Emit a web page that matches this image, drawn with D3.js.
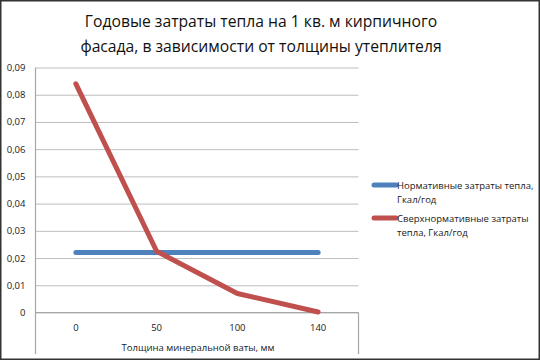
<!DOCTYPE html>
<html><head><meta charset="utf-8">
<script src="https://cdn.jsdelivr.net/npm/d3@7"></script>
<style>html,body{margin:0;padding:0;background:#fff;}svg{display:block;}</style>
</head><body>
<script>
const categories = ["0", "50", "100", "140"];
const normValues = [0.022, 0.022, 0.022, 0.022];
const overValues = [0.084, 0.0225, 0.007, 0.0002];
const yTicks = [0, 0.01, 0.02, 0.03, 0.04, 0.05, 0.06, 0.07, 0.08, 0.09];
const titleLines = ["Годовые затраты тепла на 1 кв. м кирпичного", "фасада, в зависимости от толщины утеплителя"];
const xTitle = "Толщина минеральной ваты, мм";
const seriesNames = [["Нормативные затраты тепла,", "Гкал/год"], ["Сверхнормативные  затраты", "тепла, Гкал/год"]];
const colors = ["#4F81BD", "#C0504D"];

(function () {
const W = 540, H = 360;
const font = "'Open Sans', 'Liberation Sans', sans-serif";
const svg = d3.select("body").append("svg").attr("width", W).attr("height", H);
svg.append("rect").attr("x", 0.75).attr("y", 0.75).attr("width", W - 1.5).attr("height", H - 1.5)
  .attr("fill", "#fff").attr("stroke", "#333").attr("stroke-width", 1.5);

const pLeft = 35.5, pRight = 358.5, pTop = 67.5, pBottom = 312.5;
const x = d3.scaleBand().domain(categories).range([pLeft, pRight]);
const y = d3.scaleLinear().domain([0, 0.09]).range([pBottom, pTop]);

const yAxis = d3.axisLeft(y).tickValues(yTicks).tickSize(-(pRight - pLeft))
  .tickFormat(d => d === 0 ? "0" : d3.format(".2f")(d).replace(".", ","));
const gy = svg.append("g").attr("transform", `translate(${pLeft},0)`).call(yAxis);
gy.select(".domain").remove();
gy.selectAll(".tick line").attr("stroke", "#BDBDBD").attr("stroke-width", 1);
gy.selectAll(".tick text").attr("x", -10).attr("font-family", font).attr("font-size", 9.5).attr("fill", "#1a1a1a");

svg.append("line").attr("x1", pLeft).attr("x2", pLeft).attr("y1", pTop).attr("y2", 354).attr("stroke", "#A6A6A6").attr("stroke-width", 1.2);
svg.append("line").attr("x1", pRight).attr("x2", pRight).attr("y1", pBottom).attr("y2", 354).attr("stroke", "#A6A6A6").attr("stroke-width", 1.2);
svg.append("line").attr("x1", pLeft).attr("x2", pRight).attr("y1", pBottom).attr("y2", pBottom).attr("stroke", "#A6A6A6").attr("stroke-width", 1.2);

const xAxis = d3.axisBottom(x).tickSize(0).tickPadding(0);
const gx = svg.append("g").attr("transform", `translate(0,${pBottom})`).call(xAxis);
gx.select(".domain").remove();
gx.selectAll(".tick text").attr("y", 12).attr("font-family", font).attr("font-size", 9.5).attr("fill", "#1a1a1a");

svg.append("text").attr("x", 198).attr("y", 351).attr("text-anchor", "middle")
  .attr("font-family", font).attr("font-size", 9.5).attr("fill", "#1a1a1a").text(xTitle);

svg.selectAll(".title").data(titleLines).enter().append("text")
  .attr("x", 261).attr("y", (d, i) => 27 + i * 24.5).attr("text-anchor", "middle")
  .attr("font-family", font).attr("font-size", 15.7).attr("fill", "#111").text(d => d);

const line = d3.line().x((d, i) => x(categories[i]) + x.bandwidth() / 2).y(d => y(d));
[normValues, overValues].forEach((vals, i) => {
  svg.append("path").attr("d", line(vals)).attr("fill", "none").attr("stroke", colors[i])
    .attr("stroke-width", 5).attr("stroke-linecap", "round").attr("stroke-linejoin", "round");
});

const legY = [185, 218];
seriesNames.forEach((lines, i) => {
  svg.append("line").attr("x1", 374).attr("x2", 396).attr("y1", legY[i]).attr("y2", legY[i])
    .attr("stroke", colors[i]).attr("stroke-width", 5).attr("stroke-linecap", "round");
  lines.forEach((t, j) => {
    svg.append("text").attr("x", 397).attr("y", legY[i] + 3.5 + j * 14.5)
      .attr("font-family", font).attr("font-size", 9.5).attr("fill", "#1a1a1a").text(t);
  });
});
})();
</script>
</body></html>
